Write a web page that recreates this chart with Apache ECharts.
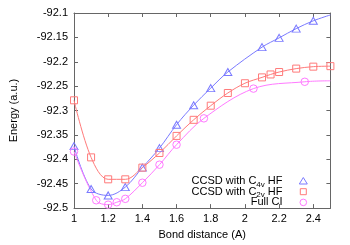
<!DOCTYPE html>
<html><head><meta charset="utf-8">
<script src="https://cdn.jsdelivr.net/npm/echarts@6/dist/echarts.min.js"></script>
<style>html,body{margin:0;padding:0;background:#fff}#c{width:350px;height:245px}</style>
</head><body><div id="c"></div>
<script>
// Marker data (bond distance, energy)
const blueX = [1.0, 1.1, 1.2, 1.3, 1.4, 1.5, 1.6, 1.7, 1.8, 1.9, 2.1, 2.2, 2.3, 2.4];
const blueY = [-92.373, -92.461, -92.474, -92.457, -92.417, -92.377, -92.329, -92.289, -92.254, -92.221, -92.170, -92.151, -92.132, -92.116];
const redX = [1.0, 1.1, 1.2, 1.3, 1.4, 1.5, 1.6, 1.7, 1.8, 1.9, 2.0, 2.1, 2.15, 2.2, 2.3, 2.4, 2.5];
const redY = [-92.279, -92.396, -92.441, -92.441, -92.417, -92.387, -92.352, -92.319, -92.290, -92.264, -92.244, -92.232, -92.226, -92.221, -92.214, -92.210, -92.209];
const magX = [1.0, 1.13, 1.2, 1.25, 1.3, 1.4, 1.5, 1.6, 1.76, 2.05, 2.35];
const magY = [-92.384, -92.484, -92.493, -92.488, -92.481, -92.448, -92.411, -92.370, -92.316, -92.255, -92.241];
// Fit-curve end values at x = 2.5
const blueEnd = [2.5, -92.104];
const magEnd = [2.5, -92.239];
const names = ['CCSD with C4v HF', 'CCSD with C2v HF', 'Full CI'];
const colors = ['#7a7aff', '#ff7a7a', '#ff7aff'];
const xTicks = {min: 1, max: 2.5, interval: 0.2};
const yTicks = {min: -92.5, max: -92.1, interval: 0.05};

const zip = (xs, ys) => xs.map((x, i) => [x, ys[i]]);
const FONT = 'Liberation Sans';
const axisCol = '#666';

const chart = echarts.init(document.getElementById('c'), null, {renderer: 'canvas'});
const xBase = {type: 'value', min: xTicks.min, max: xTicks.max, interval: xTicks.interval,
  axisLine: {show: true, onZero: false, lineStyle: {color: axisCol, width: 1}},
  axisTick: {show: true, inside: true, length: 4, lineStyle: {color: axisCol}},
  splitLine: {show: false}};
const yBase = {type: 'value', min: yTicks.min, max: yTicks.max, interval: yTicks.interval,
  axisLine: {show: true, onZero: false, lineStyle: {color: axisCol, width: 1}},
  axisTick: {show: true, inside: true, length: 4, lineStyle: {color: axisCol}},
  splitLine: {show: false}};

const lineData = [zip(blueX, blueY).concat([blueEnd]), zip(redX, redY), zip(magX, magY).concat([magEnd])];
const markData = [zip(blueX, blueY), zip(redX, redY), zip(magX, magY)];
const symbols = ['triangle', 'rect', 'circle'];
const symSizes = [[8, 7], 7, 7.5];

const series = [];
for (let i = 0; i < 3; i++) {
  series.push({type: 'line', name: 'fit' + i, data: lineData[i], smooth: 0.35,
    showSymbol: false, symbol: 'none', lineStyle: {color: colors[i], width: 1}, silent: true, z: 2});
}
for (let i = 0; i < 3; i++) {
  series.push({type: 'scatter', name: names[i], data: markData[i], symbol: symbols[i], symbolSize: symSizes[i],
    itemStyle: {color: 'rgba(0,0,0,0)', borderColor: colors[i], borderWidth: 1, opacity: 1}, z: 3});
}

// Legend (drawn as graphic: right-aligned text, marker symbol to its right)
const rich = {a: {fontFamily: FONT, fontSize: 11, fill: '#000'}, s: {fontFamily: FONT, fontSize: 8, fill: '#000', padding: [7, 0, 0, 0]}};
const legendTexts = ['{a|CCSD with C}{s|4v}{a| HF}', '{a|CCSD with C}{s|2v}{a| HF}', '{a|Full CI}'];
const LX = 282.5, IX = 303.3, LY0 = 181, LDY = 10.7;
const graphic = [];
legendTexts.forEach((t, i) => {
  const y = LY0 + i * LDY;
  graphic.push({type: 'text', x: LX, y: y, silent: true,
    style: {text: t, rich: rich, align: 'right', verticalAlign: 'middle', font: '11px ' + FONT, fill: '#000'}});
  const st = {fill: 'none', stroke: colors[i], lineWidth: 1};
  if (i === 0) graphic.push({type: 'polygon', shape: {points: [[IX, y - 3.5], [IX + 4, y + 3], [IX - 4, y + 3]]}, style: st, silent: true});
  if (i === 1) graphic.push({type: 'rect', shape: {x: IX - 3, y: y - 3, width: 6, height: 6}, style: st, silent: true});
  if (i === 2) graphic.push({type: 'circle', shape: {cx: IX, cy: y, r: 3.3}, style: st, silent: true});
});

chart.setOption({
  animation: false,
  backgroundColor: '#fff',
  textStyle: {fontFamily: FONT},
  grid: {left: 65.4, right: 19.6, top: 13, bottom: 35, containLabel: false},
  graphic: graphic,
  xAxis: [
    Object.assign({}, xBase, {position: 'bottom', name: 'Bond distance (A)', nameLocation: 'middle', nameGap: 20,
      nameTextStyle: {fontFamily: FONT, fontSize: 11, color: '#000'},
      axisLabel: {fontFamily: FONT, fontSize: 11, color: '#000', margin: 5, showMaxLabel: false}}),
    Object.assign({}, xBase, {position: 'top', axisLabel: {show: false}})
  ],
  yAxis: [
    Object.assign({}, yBase, {position: 'left', name: 'Energy (a.u.)', nameLocation: 'middle', nameGap: 55,
      nameTextStyle: {fontFamily: FONT, fontSize: 11, color: '#000'},
      axisLabel: {fontFamily: FONT, fontSize: 11, color: '#000', margin: 6}}),
    Object.assign({}, yBase, {position: 'right', axisLabel: {show: false}})
  ],
  series: series
});
</script></body></html>
